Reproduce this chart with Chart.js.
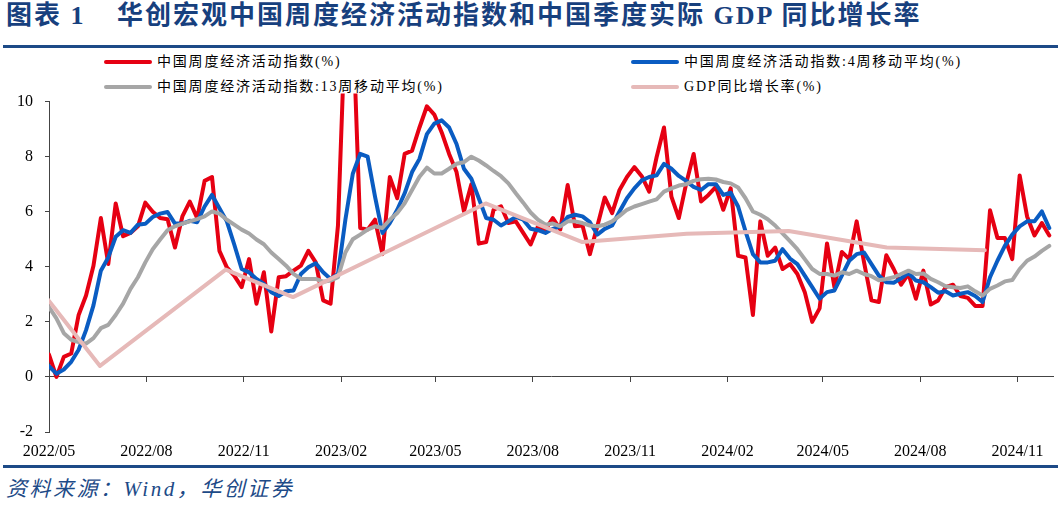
<!DOCTYPE html>
<html>
<head>
<meta charset="utf-8">
<script src="https://cdn.jsdelivr.net/npm/chart.js@4"></script>
<style>
  html, body { margin: 0; padding: 0; background: #fff; }
  body { width: 1058px; height: 520px; position: relative; overflow: hidden; }
  .title { position: absolute; top: 0; line-height: 32px; font-size: 26px; font-weight: bold; color: #17407e;
           font-family: "Liberation Serif", "Noto Sans CJK SC", serif; white-space: nowrap; letter-spacing: 2px; }
  .rule { position: absolute; left: 3px; right: 0; height: 3px; background: #1d4a87; }
  .legend-item { position: absolute; height: 20px; line-height: 20px; white-space: nowrap;
                 font-family: "Liberation Serif", "Noto Sans CJK SC", serif; font-size: 14px; letter-spacing: 1.8px; color: #000; }
  .legend-item i { display: inline-block; width: 48px; height: 4px; border-radius: 2px; vertical-align: middle; margin-right: 5px; position: relative; top: -1px; }
  #wrap { position: absolute; left: 0; top: 80px; width: 1058px; height: 385px; }
  #source { position: absolute; left: 6px; top: 477px; line-height: 24px; font-size: 21px; font-style: italic; color: #1d4a87;
            font-family: "Liberation Serif", "Noto Sans CJK SC", serif; letter-spacing: 2.5px; white-space: nowrap; }
</style>
</head>
<body>
<div class="title" style="left:6px">图表 1</div>
<div class="title" style="left:117px">华创宏观中国周度经济活动指数和中国季度实际 GDP 同比增长率</div>
<div class="rule" style="top:45px"></div>
<div id="legend"></div>
<div id="wrap"><canvas id="chart" width="1058" height="385"></canvas></div>
<div class="rule" style="top:465px"></div>
<div id="source">资料来源：Wind，华创证券</div>

<script>
var tickLabels = ['2022/05', '2022/08', '2022/11', '2023/02', '2023/05', '2023/08', '2023/11', '2024/02', '2024/05', '2024/08', '2024/11'];

var seriesNames = ['中国周度经济活动指数(%)', '中国周度经济活动指数:4周移动平均(%)', '中国周度经济活动指数:13周移动平均(%)', 'GDP同比增长率(%)'];
var seriesColors = ['#e60012', '#0a5cc2', '#a6a6a6', '#e6b9b8'];

// weekly values, one per week starting 2022/05
var weeklyIndex = [
  0.81, 0.0, 0.73, 0.85, 2.25, 2.96, 4.04, 5.77, 4.1, 6.3,
  5.11, 5.23, 5.47, 6.33, 6.0, 5.77, 5.73, 4.7, 5.83, 6.37,
  5.77, 7.12, 7.26, 4.58, 3.98, 3.68, 3.26, 4.28, 2.66, 3.8,
  1.65, 3.62, 3.66, 3.86, 4.04, 4.58, 4.16, 2.78, 2.66, 5.5,
  13.0, 13.0, 5.41, 5.35, 5.71, 4.46, 7.26, 6.49, 8.1, 8.22,
  9.06, 9.83, 9.53, 8.88, 8.1, 7.44, 6.01, 7.0, 4.84, 4.9,
  6.07, 6.2, 5.59, 5.65, 5.23, 4.81, 5.47, 5.35, 5.77, 5.35,
  6.97, 5.47, 5.5, 4.46, 5.47, 6.52, 5.95, 6.79, 7.26, 7.62,
  7.29, 6.73, 7.98, 9.06, 6.55, 5.77, 7.03, 8.1, 6.37, 6.61,
  6.9, 6.07, 6.85, 4.4, 4.34, 2.25, 5.65, 4.4, 4.7, 3.92,
  4.1, 3.74, 3.08, 2.0, 2.49, 4.85, 3.26, 4.54, 4.28, 5.65,
  4.16, 2.78, 2.72, 4.42, 3.92, 3.35, 3.74, 2.84, 3.86, 2.63,
  2.78, 3.26, 3.35, 2.94, 2.87, 2.58, 2.58, 6.05, 5.05, 5.05,
  4.28, 7.32, 5.83, 5.14, 5.59, 5.14
];

var weeklyMa4 = [
  0.39, 0.12, 0.27, 0.55, 0.99, 1.7, 2.6, 3.86, 4.34, 5.09,
  5.33, 5.23, 5.53, 5.56, 5.81, 5.93, 5.99, 5.57, 5.57, 5.67,
  5.62, 6.19, 6.61, 6.13, 5.65, 4.81, 3.92, 3.8, 3.56, 3.38,
  3.08, 2.94, 3.11, 3.14, 3.74, 3.98, 4.13, 3.8, 3.56, 3.74,
  5.71, 7.38, 8.1, 8.0, 6.55, 5.23, 5.59, 6.07, 6.67, 7.44,
  7.92, 8.82, 9.2, 9.32, 9.06, 8.46, 7.56, 7.2, 6.49, 5.77,
  5.71, 5.5, 5.65, 5.81, 5.71, 5.38, 5.33, 5.23, 5.38, 5.47,
  5.81, 5.89, 5.83, 5.62, 5.17, 5.38, 5.5, 6.01, 6.49, 6.85,
  7.14, 7.26, 7.32, 7.74, 7.56, 7.3, 7.12, 6.9, 6.79, 7.0,
  7.0, 6.61, 6.69, 6.19, 5.29, 4.46, 4.16, 4.16, 4.22, 4.64,
  4.3, 4.1, 3.68, 3.26, 2.84, 3.08, 3.14, 3.68, 4.22, 4.46,
  4.52, 4.1, 3.68, 3.44, 3.42, 3.58, 3.78, 3.5, 3.44, 3.26,
  3.06, 3.11, 2.96, 3.02, 3.08, 2.94, 2.72, 3.62, 4.22, 4.76,
  5.17, 5.47, 5.65, 5.65, 6.01, 5.41
];

var weeklyMa13 = [
  2.54, 2.13, 1.59, 1.35, 1.27, 1.21, 1.41, 1.77, 1.89, 2.25,
  2.66, 3.2, 3.62, 4.16, 4.64, 4.99, 5.33, 5.47, 5.57, 5.65,
  5.73, 5.83, 6.01, 5.93, 5.71, 5.53, 5.35, 5.21, 4.99, 4.82,
  4.52, 4.28, 4.04, 3.74, 3.56, 3.56, 3.56, 3.46, 3.5, 3.62,
  4.52, 5.0, 5.17, 5.35, 5.47, 5.41, 5.71, 5.95, 6.31, 6.79,
  7.27, 7.6, 7.39, 7.39, 7.56, 7.74, 7.8, 8.0, 7.86, 7.68,
  7.48, 7.29, 7.03, 6.67, 6.33, 5.97, 5.71, 5.53, 5.57, 5.47,
  5.65, 5.65, 5.59, 5.5, 5.47, 5.53, 5.65, 5.85, 6.07, 6.19,
  6.28, 6.37, 6.45, 6.73, 6.85, 6.95, 7.0, 7.12, 7.18, 7.2,
  7.17, 7.08, 7.03, 6.88, 6.49, 6.01, 5.89, 5.73, 5.5, 5.21,
  4.93, 4.64, 4.28, 3.92, 3.74, 3.74, 3.68, 3.8, 3.74, 3.86,
  3.74, 3.66, 3.51, 3.56, 3.62, 3.74, 3.86, 3.74, 3.76, 3.56,
  3.44, 3.29, 3.26, 3.23, 3.29, 3.11, 2.96, 3.2, 3.32, 3.47,
  3.52, 3.92, 4.22, 4.37, 4.58, 4.76
];

// quarterly GDP, placed at the week it is plotted on
var gdpWeek = [-5.95, 6.88, 23.85, 32.93, 45.2, 58.93, 71.98, 86.06, 99.83, 113.06, 126.29];
var gdpYoy = [4.8, 0.4, 3.9, 2.9, 4.5, 6.3, 4.9, 5.2, 5.3, 4.7, 4.6];

var startDate = new Date(2022, 4, 1);
var tickWeeks = tickLabels.map(function (label) {
  var p = label.split('/');
  var d = new Date(+p[0], +p[1] - 1, 1);
  return (d - startDate) / (7 * 86400000);
});

function toPoints(xs, ys) {
  return ys.map(function (v, i) { return { x: xs ? xs[i] : i, y: v }; });
}

// legend
var legend = document.getElementById('legend');
var legendSpots = [[104, 52], [631, 52], [104, 77], [631, 77]];
seriesNames.forEach(function (name, i) {
  var item = document.createElement('div');
  item.className = 'legend-item';
  item.style.left = legendSpots[i][0] + 'px';
  item.style.top = legendSpots[i][1] + 'px';
  item.innerHTML = '<i style="background:' + seriesColors[i] + '"></i>' + name;
  legend.appendChild(item);
});

function setTicks(axis) {
  axis.ticks = tickWeeks.map(function (w) { return { value: w }; });
}

var lineBase = { pointRadius: 0, tension: 0, borderJoinStyle: 'round', borderCapStyle: 'round', xAxisID: 'x', yAxisID: 'y' };

var ctx = document.getElementById('chart').getContext('2d');
new Chart(ctx, {
  type: 'line',
  data: {
    datasets: [
      Object.assign({ label: seriesNames[0], data: toPoints(null, weeklyIndex), borderColor: seriesColors[0], borderWidth: 4, order: 4,
                      clip: { left: 0, top: 8, right: 0, bottom: 0 } }, lineBase),
      Object.assign({ label: seriesNames[1], data: toPoints(null, weeklyMa4), borderColor: seriesColors[1], borderWidth: 4, order: 3 }, lineBase),
      Object.assign({ label: seriesNames[2], data: toPoints(null, weeklyMa13), borderColor: seriesColors[2], borderWidth: 4, order: 2 }, lineBase),
      Object.assign({ label: seriesNames[3], data: toPoints(gdpWeek, gdpYoy), borderColor: seriesColors[3], borderWidth: 4, order: 1,
                      clip: { left: 0, top: 0, right: 0, bottom: 0 } }, lineBase)
    ]
  },
  options: {
    responsive: false,
    animation: false,
    devicePixelRatio: 1,
    layout: { padding: { top: 17, right: 5, left: 0, bottom: 0 } },
    plugins: { legend: { display: false }, tooltip: { enabled: false } },
    scales: {
      x: {
        type: 'linear', position: { y: 0 }, min: 0, max: 135.5,
        afterBuildTicks: setTicks,
        ticks: { display: false },
        grid: { drawOnChartArea: false, drawTicks: true, tickLength: 5, color: '#444' },
        border: { color: '#444', width: 1 }
      },
      x2: {
        type: 'linear', position: 'bottom', min: 0, max: 135.5,
        afterBuildTicks: setTicks,
        afterFit: function (s) { s.height = 33; },
        grid: { display: false, drawTicks: false },
        border: { display: false },
        ticks: {
          autoSkip: false, maxRotation: 0, padding: 10, color: '#000',
          font: { family: 'Liberation Serif', size: 16 },
          callback: function (v, i) { return tickLabels[i]; }
        }
      },
      y: {
        min: -2, max: 10,
        afterFit: function (s) { s.width = 49; },
        ticks: { stepSize: 2, padding: 12, color: '#000', font: { family: 'Liberation Serif', size: 16 } },
        grid: { drawOnChartArea: false, drawTicks: true, tickLength: 4, color: '#444' },
        border: { color: '#444', width: 1 }
      }
    }
  }
});
</script>
</body>
</html>
